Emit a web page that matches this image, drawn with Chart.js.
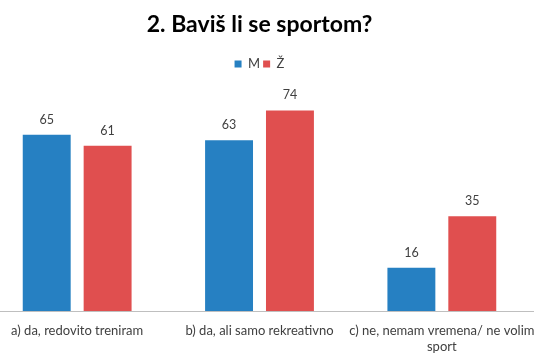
<!DOCTYPE html>
<html>
<head>
<meta charset="utf-8">
<script src="https://cdn.jsdelivr.net/npm/chart.js@4/dist/chart.umd.min.js"></script>
<style>
html,body{margin:0;padding:0;background:#fff;overflow:hidden;width:540px;height:360px;}
#wrap{position:absolute;left:-14px;top:0;width:560px;height:360px;}
</style>
</head>
<body>
<div id="wrap"><canvas id="c" width="560" height="360"></canvas></div>
<script>
const titleText = "2. Baviš li se sportom?";
const categories = [
  "a) da, redovito treniram",
  "b) da, ali samo rekreativno",
  ["c) ne, nemam vremena/ ne volim", "sport"]
];
const seriesNames = ["M", "Ž"];
const valuesM = [65, 63, 16];
const valuesZ = [61, 74, 35];
const colors = ["#2680c2", "#e04f4f"];

const valueLabels = {
  id: 'valueLabels',
  afterDatasetsDraw(chart) {
    const ctx = chart.ctx;
    ctx.save();
    ctx.font = '12.5px Lato';
    ctx.fillStyle = '#404040';
    ctx.textAlign = 'center';
    ctx.textBaseline = 'middle';
    chart.data.datasets.forEach((ds, i) => {
      chart.getDatasetMeta(i).data.forEach((el, j) => {
        ctx.fillText(String(ds.data[j]), el.x, el.y - 15);
      });
    });
    ctx.restore();
  }
};

new Chart(document.getElementById('c'), {
  type: 'bar',
  data: {
    labels: categories,
    datasets: [
      {label: seriesNames[0], data: valuesM, backgroundColor: colors[0]},
      {label: seriesNames[1], data: valuesZ, backgroundColor: colors[1]}
    ]
  },
  options: {
    responsive: false,
    animation: false,
    devicePixelRatio: 1,
    layout: {padding: {left: 0, right: 13, top: 0, bottom: 5}},
    datasets: {bar: {categoryPercentage: 0.668, barPercentage: 0.787}},
    plugins: {
      title: {
        display: true, text: titleText, color: '#000',
        font: {family: 'Lato', size: 23, weight: 'bold'},
        padding: {top: 11, bottom: 16}
      },
      legend: {
        display: true,
        labels: {boxWidth: 7, boxHeight: 7, color: '#404040',
          font: {family: 'Lato', size: 13}, padding: 3}
      },
      tooltip: {enabled: false}
    },
    scales: {
      x: {
        grid: {display: false, drawTicks: false},
        border: {display: true, color: '#bfbfbf', width: 1},
        ticks: {color: '#404040', font: {family: 'Lato', size: 13, lineHeight: 1.28}, padding: 11, maxRotation: 0, autoSkip: false},
        afterFit(scale) { scale.paddingLeft = 0; scale.paddingRight = 0; scale.height = 44; }
      },
      y: {
        display: false,
        min: 0, max: 85
      }
    }
  },
  plugins: [valueLabels]
});
</script>
</body>
</html>
